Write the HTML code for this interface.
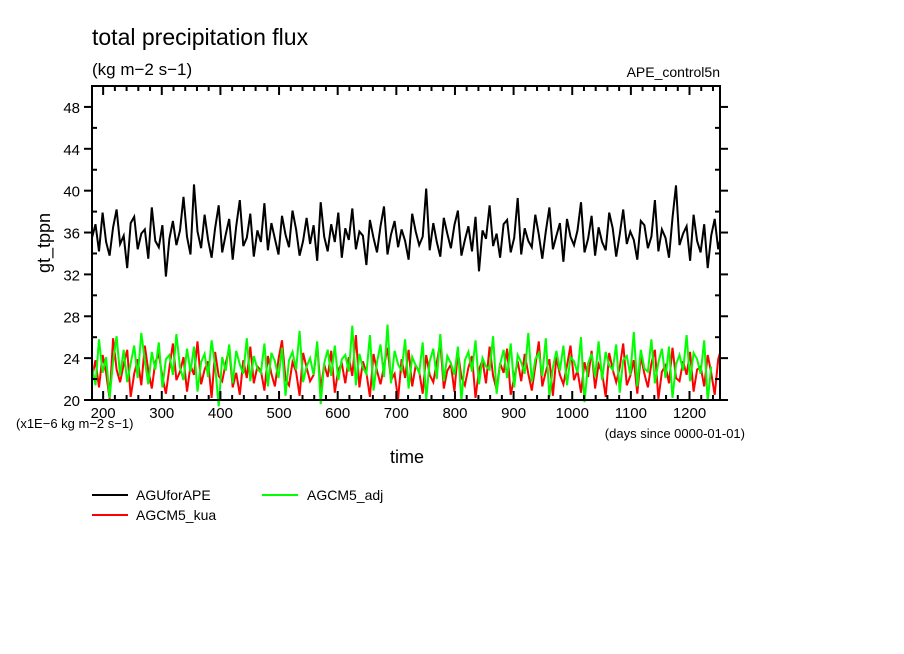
<!DOCTYPE html>
<html><head><meta charset="utf-8"><style>
body{margin:0;background:#fff;width:904px;height:654px;overflow:hidden}
svg{display:block;font-family:"Liberation Sans",sans-serif}
</style></head><body>
<svg id="c" width="904" height="654">
<text x="92" y="45" font-size="23">total precipitation flux</text>
<text x="92" y="75" font-size="17">(kg m−2 s−1)</text>
<text x="720" y="77" font-size="14" text-anchor="end">APE_control5n</text>
<text x="50" y="243" font-size="18" text-anchor="middle" transform="rotate(-90 50 243)">gt_tppn</text>
<text x="407" y="463" font-size="18" text-anchor="middle">time</text>
<text x="16" y="428" font-size="13">(x1E−6 kg m−2 s−1)</text>
<text x="745" y="438" font-size="13" text-anchor="end">(days since 0000-01-01)</text>
<g id="plot"></g>
<g>
<line x1="92" y1="495" x2="128" y2="495" stroke="#000" stroke-width="2"/>
<text x="136" y="500" font-size="14">AGUforAPE</text>
<line x1="92" y1="515" x2="128" y2="515" stroke="#f00" stroke-width="2"/>
<text x="136" y="520" font-size="14">AGCM5_kua</text>
<line x1="262" y1="495" x2="298" y2="495" stroke="#0f0" stroke-width="2"/>
<text x="307" y="500" font-size="14">AGCM5_adj</text>
</g>
</svg>
<script>
const xStart = 181, xStep = 6;
const yTicks = [20,24,28,32,36,40,44,48];
const xTicks = [200,300,400,500,600,700,800,900,1000,1100,1200];
const blackVals = [35.5,36.8,34.2,37.9,35.1,33.8,36.5,38.2,34.9,35.7,32.6,36.9,37.5,34.4,35.9,36.3,33.5,38.4,35.2,34.6,36.7,31.8,35.4,37.1,34.8,36.2,39.4,35.6,33.9,40.6,36.1,34.5,37.7,35.3,33.6,36.4,38.6,34.1,35.8,37.3,33.4,36.6,39.1,34.7,35.5,37.8,33.7,36.2,35.1,38.8,34.3,36.9,35.4,33.9,37.6,35.8,34.6,38.1,36.3,33.8,35.2,37.4,34.9,36.7,33.3,38.9,35.6,34.2,36.8,35.1,37.9,33.6,36.4,35.3,38.3,34.4,36.1,35.7,32.9,37.2,35.5,34.1,36.6,38.5,33.9,35.8,37.1,34.6,36.3,35.2,33.4,37.8,36.1,34.8,35.6,40.2,34.3,36.9,35.1,33.7,37.4,35.9,34.5,36.7,38.1,33.8,35.3,36.6,34.2,37.5,32.3,36.2,35.4,38.6,34.7,35.9,33.6,36.8,37.2,34.1,35.5,39.3,33.9,36.4,35.2,34.6,37.7,35.8,33.5,36.1,38.4,34.4,35.7,36.9,33.2,37.3,35.6,34.8,36.2,38.9,34.1,35.4,37.6,33.8,36.5,35.1,34.3,37.9,36.4,33.7,35.8,38.2,34.9,36.1,35.3,33.4,37.1,36.7,34.5,35.6,39.1,34.2,36.3,35.5,33.6,37.4,40.5,34.8,35.9,36.6,33.3,37.7,35.2,34.1,36.8,32.6,35.7,37.3,34.4,36.1,38.3];
const redVals = [22.1,23.8,21.2,24.3,22.6,20.1,25.9,22.9,21.7,23.4,24.8,20.3,22.5,23.9,21.4,25.2,22.8,21.1,23.6,24.4,22.2,20.6,23.1,25.4,21.9,22.7,24.1,20.8,23.3,22.4,25.6,21.5,22.9,23.7,20.2,24.6,22.3,21.8,23.5,24.9,21.2,22.6,20.5,23.8,22.1,25.1,21.6,23.2,22.8,20.9,24.2,22.5,21.3,23.9,25.7,22.0,21.4,23.6,22.7,20.4,24.5,23.1,21.8,22.4,25.3,21.0,23.4,22.2,24.7,20.7,22.9,23.5,21.6,24.1,22.3,26.2,21.2,23.7,22.6,20.3,24.4,22.8,21.5,23.2,25.0,21.9,22.5,20.1,23.9,22.1,24.8,21.3,23.3,22.7,20.6,24.3,22.4,21.7,23.6,25.5,21.1,22.8,23.4,20.8,24.6,22.2,21.4,23.1,24.2,20.2,22.9,23.8,21.6,25.1,22.3,21.0,23.5,22.6,24.9,20.5,22.1,23.7,21.8,24.4,22.5,20.9,23.2,25.6,21.3,22.7,23.9,20.4,24.1,22.4,21.5,23.3,25.2,21.9,22.8,20.7,23.6,22.2,24.7,21.1,23.4,22.6,20.3,24.5,22.9,21.7,23.1,25.4,21.4,22.3,23.8,20.6,24.2,22.5,21.2,23.5,24.8,20.1,22.7,23.3,21.6,25.0,22.1,21.8,23.7,22.4,24.6,20.8,22.9,23.2,21.3,24.3,22.6,20.5,23.9,25.1,21.0,23.4];
const greenVals = [23.2,21.4,25.8,22.6,24.1,20.2,23.7,26.1,22.3,24.8,21.7,23.5,25.2,22.1,26.4,23.8,21.5,24.6,22.9,25.5,21.2,23.9,24.3,22.4,26.3,23.1,21.9,24.9,22.7,25.1,20.8,23.6,24.4,22.2,25.7,23.3,19.4,24.1,22.8,25.3,21.6,24.7,23.4,22.5,25.9,21.8,24.2,23.0,22.6,25.4,21.3,24.5,23.7,22.1,25.0,20.4,23.8,24.6,22.9,26.6,21.7,23.2,24.0,22.4,25.6,19.6,23.5,24.8,22.3,25.2,21.9,23.9,24.3,22.7,27.1,21.4,24.4,23.1,22.5,26.2,20.9,23.6,25.3,22.2,27.2,21.6,24.7,23.4,22.8,25.8,21.1,24.1,23.3,22.6,25.5,20.1,23.7,24.9,22.0,26.3,21.8,24.2,23.5,22.4,25.1,19.9,23.8,24.6,22.7,25.7,21.5,24.0,23.2,22.9,26.1,20.6,23.4,24.8,22.1,25.4,21.2,24.3,23.6,22.5,26.4,21.7,23.9,24.5,22.3,25.9,20.3,23.1,24.7,22.8,25.2,21.4,24.1,23.7,22.6,26.0,19.8,23.5,24.4,22.2,25.6,21.9,24.6,23.3,22.9,25.3,20.7,23.8,24.2,22.4,26.5,21.3,24.8,23.0,22.7,25.8,21.6,23.6,24.9,22.1,25.1,20.2,23.4,24.3,22.8,26.2,21.8,24.5,23.9,22.5,25.7,19.9,23.2];
const X0=92,X1=720,Y0=400,Y1=86,D0=181,D1=1252,V0=20,V1=50;
const sx=d=>X0+(d-D0)/(D1-D0)*(X1-X0);
const sy=v=>Y0-(v-V0)/(V1-V0)*(Y0-Y1);
const NS="http://www.w3.org/2000/svg";
const g=document.getElementById('plot');
function mk(t,a){const e=document.createElementNS(NS,t);for(const k in a)e.setAttribute(k,a[k]);g.appendChild(e);return e;}
const defs=mk('clipPath',{id:'clip'});
const cr=document.createElementNS(NS,'rect');cr.setAttribute('x',X0);cr.setAttribute('y',Y1);cr.setAttribute('width',X1-X0);cr.setAttribute('height',Y0-Y1+25);defs.appendChild(cr);
function series(vals,color,name){
  const pts=vals.map((v,i)=>sx(xStart+i*xStep).toFixed(1)+','+sy(v).toFixed(1)).join(' ');
  const p=mk('polyline',{points:pts,fill:'none',stroke:color,'stroke-width':2,'clip-path':'url(#clip)'});
  
  
}
series(blackVals,'#000','series-aguforape');
series(redVals,'#f00','series-agcm5-kua');
series(greenVals,'#0f0','series-agcm5-adj');
const fr=mk('rect',{x:X0,y:Y1,width:X1-X0,height:Y0-Y1,fill:'none',stroke:'#000','stroke-width':2});


for(let v=20;v<=50;v+=2){const y=sy(v);const maj=yTicks.includes(v);
  mk('line',{x1:X0-(maj?8:0),x2:X0+(maj?0:5),y1:y,y2:y,stroke:'#000','stroke-width':2});
  mk('line',{x1:X1,x2:X1+(maj?8:0)-(maj?0:5),y1:y,y2:y,stroke:'#000','stroke-width':2});
}
yTicks.forEach(v=>{const t=mk('text',{x:X0-12,y:sy(v)+6,'font-size':15,'text-anchor':'end'});t.textContent=v;
  
  });
for(let d=200;d<=1240;d+=20){const x=sx(d);const maj=d%100===0;
  mk('line',{x1:x,x2:x,y1:Y0,y2:Y0-(maj?9:5),stroke:'#000','stroke-width':2});
  mk('line',{x1:x,x2:x,y1:Y1,y2:Y1+(maj?9:5),stroke:'#000','stroke-width':2});
}
xTicks.forEach(d=>{const t=mk('text',{x:sx(d),y:Y0+18,'font-size':15,'text-anchor':'middle'});t.textContent=d;
  
  });
</script>
</body></html>
